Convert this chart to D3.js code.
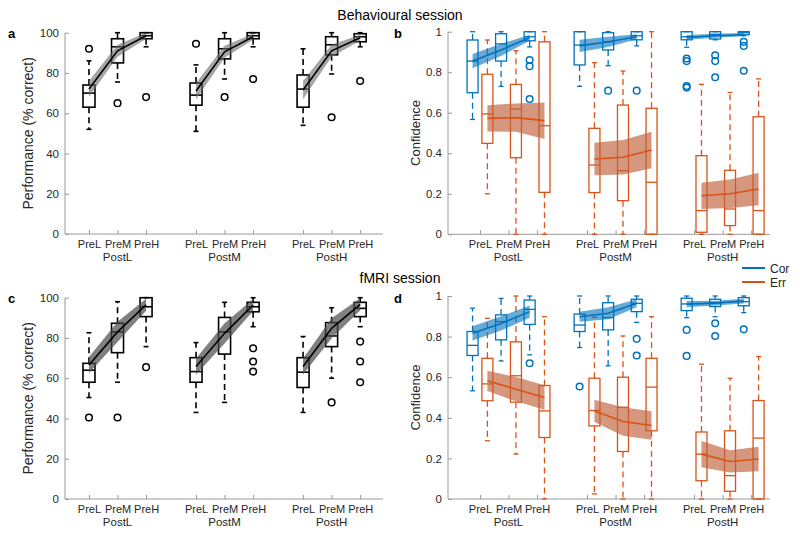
<!DOCTYPE html>
<html><head><meta charset="utf-8">
<script src="https://cdn.jsdelivr.net/npm/d3@7/dist/d3.min.js"></script>
<style>
body{margin:0;background:#fff;}
text{font-family:Arial,"Liberation Sans",Helvetica,sans-serif;}
</style>
</head><body>
<svg id="chart" width="800" height="534"></svg>
<script>
// ---------- data ----------
const groups = ["PostL", "PostM", "PostH"];
const conds = ["PreL", "PreM", "PreH"];
const positions = [1, 2, 3, 4.75, 5.75, 6.75, 8.5, 9.5, 10.5];
const perfTicks = [0, 20, 40, 60, 80, 100];
const confTicks = [0, 0.2, 0.4, 0.6, 0.8, 1];

// box stats: [lowerCap, q1, median, q3, upperCap]
const behavPerfBoxes = [
  [52, 63, 70, 74, 86], [75.5, 85, 93, 97, 100], [93, 97, 98.5, 100, 100],
  [51, 64, 69, 75, 84], [77, 87, 92, 97, 100], [93, 97, 98.5, 100, 100],
  [54, 63, 72, 79, 92], [79.5, 89, 94, 98, 100], [93, 95.5, 98, 99.5, 100]
];
const behavPerfOutliers = [[92], [65], [68], [94.5], [68], [77], [], [58], [76]];
const behavPerfMean = [72, 91, 98.5, 71, 90.5, 98, 71.5, 91, 97.5];
const behavPerfBand = [4, 3, 1.5, 4, 3, 1.5, 4.5, 3, 1.5];

const fmriPerfBoxes = [
  [50.4, 58, 64, 67.4, 82.6], [58, 72.7, 83, 87.3, 98], [75.7, 90.6, 95.5, 100, 100],
  [43, 58, 63.3, 70.2, 77.7], [48, 72, 83, 90.2, 97.7], [85.6, 93, 95.5, 97.7, 100],
  [43, 55.4, 63, 70.2, 80.7], [60, 75.7, 81, 87.6, 95], [85.6, 90.6, 94.7, 97.7, 100]
];
const fmriPerfOutliers = [[40.5], [40.5], [65.5], [], [], [74.9, 68.3, 63.3], [], [48], [78.2, 68.3, 58]];
const fmriPerfMean = [66.6, 83, 96.5, 65.8, 82.3, 96.4, 65.8, 84.8, 96.7];
const fmriPerfBand = [4, 5, 3, 4, 5, 3, 4, 5, 3];

const behavCorBoxes = [
  [0.567, 0.699, 0.855, 0.959, 1.0], [0.73, 0.855, 0.94, 0.99, 1.0], [0.925, 0.955, 0.975, 1.0, 1.0],
  [0.73, 0.836, 0.934, 1.0, 1.0], [0.832, 0.91, 0.95, 0.995, 1.0], [0.93, 0.96, 0.98, 1.0, 1.0],
  [0.923, 0.96, 0.975, 1.0, 1.0], [0.96, 0.964, 0.987, 1.0, 1.0], [0.98, 0.985, 0.995, 1.0, 1.0]
];
const behavCorOutliers = [[], [], [0.86, 0.83, 0.668], [], [0.709], [0.709],
  [0.868, 0.855, 0.732, 0.724], [0.884, 0.855, 0.775], [0.95, 0.93, 0.807]];
const behavCorMean = [0.855, 0.91, 0.97, 0.93, 0.95, 0.975, 0.972, 0.98, 0.985];
const behavCorBand = [0.035, 0.03, 0.015, 0.03, 0.025, 0.012, 0.012, 0.01, 0.008];

const behavErrBoxes = [
  [0.2, 0.449, 0.594, 0.79, 0.959], [0, 0.378, 0.618, 0.74, 0.906], [0, 0.207, 0.536, 0.95, 1.0],
  [0, 0.206, 0.342, 0.523, 0.847], [0, 0.166, 0.314, 0.638, 0.806], [0, 0.0, 0.257, 0.622, 1.0],
  [0, 0.01, 0.117, 0.388, 0.74], [0, 0.043, 0.125, 0.316, 0.70], [0, 0.0, 0.117, 0.58, 0.767]
];
const behavErrOutliers = [[], [], [], [], [], [], [], [], []];
const behavErrMean = [0.572, 0.576, 0.561, 0.372, 0.38, 0.416, 0.19, 0.20, 0.224];
const behavErrBand = [0.065, 0.07, 0.09, 0.08, 0.085, 0.09, 0.065, 0.07, 0.08];

const fmriCorBoxes = [
  [0.533, 0.707, 0.757, 0.825, 0.94], [0.68, 0.784, 0.874, 0.907, 0.988], [0.71, 0.86, 0.934, 0.98, 1.0],
  [0.746, 0.825, 0.857, 0.911, 1.0], [0.656, 0.833, 0.893, 0.967, 1.0], [0.87, 0.923, 0.964, 0.984, 1.0],
  [0.893, 0.928, 0.961, 0.989, 1.0], [0.898, 0.948, 0.967, 0.984, 1.0], [0.918, 0.952, 0.972, 0.992, 1.0]
];
const fmriCorOutliers = [[], [], [0.669], [0.554], [], [0.789, 0.707], [0.833, 0.705], [0.866, 0.803], [0.836]];
const fmriCorMean = [0.816, 0.865, 0.923, 0.898, 0.915, 0.964, 0.96, 0.965, 0.975];
const fmriCorBand = [0.035, 0.035, 0.03, 0.025, 0.03, 0.02, 0.015, 0.012, 0.012];

const fmriErrBoxes = [
  [0.287, 0.484, 0.567, 0.693, 0.89], [0.221, 0.477, 0.607, 0.774, 1.0], [0, 0.303, 0.434, 0.559, 0.898],
  [0.025, 0.36, 0.436, 0.595, 0.895], [0, 0.234, 0.452, 0.6, 0.803], [0, 0.336, 0.551, 0.693, 0.898],
  [0, 0.09, 0.221, 0.33, 0.664], [0, 0.038, 0.115, 0.336, 0.595], [0, 0, 0.3, 0.485, 0.702]
];
const fmriErrOutliers = [[], [], [], [], [], [], [], [], []];
const fmriErrMean = [0.582, 0.541, 0.5, 0.434, 0.382, 0.362, 0.221, 0.185, 0.197];
const fmriErrBand = [0.05, 0.06, 0.06, 0.055, 0.07, 0.07, 0.065, 0.055, 0.06];

const legendLabels = ["Cor", "Err"];
const sessionTitles = ["Behavioural session", "fMRI session"];
const panelLetters = ["a", "b", "c", "d"];

// ---------- drawing ----------
const BLUE = "#0072BD", ORANGE = "#D95319";
const svg = d3.select("#chart");
const AXIS_COL = "#9a9a9a", TEXT_COL = "#262626";

function drawPanel(cfg) {
  const g = svg.append("g");
  const x = d3.scaleLinear().domain(cfg.xDomain).range([cfg.left, cfg.right]);
  const y = d3.scaleLinear().domain(cfg.yDomain).range([cfg.bottom, cfg.top]);

  const ya = g.append("g").attr("transform", `translate(${cfg.left},0)`)
    .call(d3.axisLeft(y).tickValues(cfg.yTicks).tickSize(-4).tickSizeOuter(0).tickPadding(6)
      .tickFormat(d => d3.format("~g")(d)));
  const xa = g.append("g").attr("transform", `translate(0,${cfg.bottom})`)
    .call(d3.axisBottom(x).tickValues(positions).tickSize(-4).tickSizeOuter(0).tickPadding(6)
      .tickFormat((d, i) => conds[i % 3]));
  [ya, xa].forEach(a => {
    a.select(".domain").attr("stroke", AXIS_COL);
    a.selectAll(".tick line").attr("stroke", AXIS_COL);
    a.selectAll("text").attr("fill", TEXT_COL).style("font-size", "11.5px");
  });
  xa.selectAll("text").style("font-size", "11px");
  xa.select(".domain").attr("d", `M${cfg.left},0H${cfg.right}`);
  ya.select(".domain").attr("d", `M0,${cfg.bottom}V${cfg.top}`);

  groups.forEach((gn, k) => {
    g.append("text").attr("x", x(positions[3 * k + 1])).attr("y", cfg.bottom + 27)
      .attr("text-anchor", "middle").attr("fill", TEXT_COL).style("font-size", "11.5px").text(gn);
  });

  g.append("text")
    .attr("transform", `translate(${cfg.ylabX},${(cfg.top + cfg.bottom) / 2}) rotate(-90)`)
    .attr("text-anchor", "middle").attr("fill", TEXT_COL)
    .style("font-size", cfg.ylabSize).text(cfg.ylabel);

  cfg.series.forEach(s => {
    const bg = g.append("g");
    s.boxes.forEach((b, i) => {
      const cx = x(positions[i] + s.offset);
      const [lo, q1, md, q3, hi] = b;
      const line = (x1, y1, x2, y2, dash) => bg.append("line")
        .attr("x1", x1).attr("y1", y1).attr("x2", x2).attr("y2", y2)
        .attr("stroke", s.color).attr("stroke-width", s.sw)
        .attr("stroke-dasharray", dash ? "6,4" : null);
      if (hi > q3) line(cx, y(q3), cx, y(hi), true);
      if (lo < q1) line(cx, y(q1), cx, y(lo), true);
      line(cx - cfg.capW / 2, y(hi), cx + cfg.capW / 2, y(hi));
      line(cx - cfg.capW / 2, y(lo), cx + cfg.capW / 2, y(lo));
      bg.append("rect").attr("x", cx - cfg.boxW / 2).attr("y", y(q3))
        .attr("width", cfg.boxW).attr("height", Math.max(0.5, y(q1) - y(q3)))
        .attr("fill", "none").attr("stroke", s.color).attr("stroke-width", s.sw);
      line(cx - cfg.boxW / 2, y(md), cx + cfg.boxW / 2, y(md));
      s.outliers[i].forEach(o => {
        bg.append("circle").attr("cx", cx).attr("cy", y(o)).attr("r", 3.3)
          .attr("fill", "none").attr("stroke", s.color).attr("stroke-width", 1.5);
      });
    });
  });

  cfg.series.forEach(s => {
    groups.forEach((gn, k) => {
      const idx = [3 * k, 3 * k + 1, 3 * k + 2];
      const area = d3.area()
        .x(i => x(positions[i] + s.offset))
        .y0(i => y(s.mean[i] - s.band[i]))
        .y1(i => y(s.mean[i] + s.band[i]));
      g.append("path").attr("d", area(idx))
        .attr("fill", s.bandColor).attr("fill-opacity", s.bandOpacity).attr("stroke", "none");
      const ln = d3.line().x(i => x(positions[i] + s.offset)).y(i => y(s.mean[i]));
      g.append("path").attr("d", ln(idx)).attr("fill", "none")
        .attr("stroke", s.color).attr("stroke-width", 1.6);
    });
  });
}

const perfCommon = {
  left: 65, right: 383, xDomain: [0.16, 11.3], yDomain: [0, 100], yTicks: perfTicks,
  boxW: 12, capW: 5, ylabX: 33, ylabSize: "14px", ylabel: "Performance (% correct)"
};
const confCommon = {
  left: 448, right: 770, xDomain: [-0.12, 11.16], yDomain: [0, 1], yTicks: confTicks,
  boxW: 11, capW: 5, ylabX: 420, ylabSize: "13px", ylabel: "Confidence"
};
const off = 0.26;

drawPanel(Object.assign({}, perfCommon, {
  top: 32.7, bottom: 234,
  series: [{ boxes: behavPerfBoxes, outliers: behavPerfOutliers, mean: behavPerfMean, band: behavPerfBand,
    offset: 0, color: "#000", sw: 1.6, bandColor: "#6a6a6a", bandOpacity: 0.6 }]
}));
drawPanel(Object.assign({}, perfCommon, {
  top: 297.7, bottom: 499,
  series: [{ boxes: fmriPerfBoxes, outliers: fmriPerfOutliers, mean: fmriPerfMean, band: fmriPerfBand,
    offset: 0, color: "#000", sw: 1.6, bandColor: "#4a4a4a", bandOpacity: 0.7 }]
}));
drawPanel(Object.assign({}, confCommon, {
  top: 31.7, bottom: 234.3,
  series: [
    { boxes: behavCorBoxes, outliers: behavCorOutliers, mean: behavCorMean, band: behavCorBand,
      offset: -off, color: BLUE, sw: 1.3, bandColor: BLUE, bandOpacity: 0.6 },
    { boxes: behavErrBoxes, outliers: behavErrOutliers, mean: behavErrMean, band: behavErrBand,
      offset: off, color: ORANGE, sw: 1.3, bandColor: "#c0603a", bandOpacity: 0.65 }
  ]
}));
drawPanel(Object.assign({}, confCommon, {
  top: 296, bottom: 499,
  series: [
    { boxes: fmriCorBoxes, outliers: fmriCorOutliers, mean: fmriCorMean, band: fmriCorBand,
      offset: -off, color: BLUE, sw: 1.3, bandColor: BLUE, bandOpacity: 0.6 },
    { boxes: fmriErrBoxes, outliers: fmriErrOutliers, mean: fmriErrMean, band: fmriErrBand,
      offset: off, color: ORANGE, sw: 1.3, bandColor: "#c0603a", bandOpacity: 0.65 }
  ]
}));

[[sessionTitles[0], 20], [sessionTitles[1], 283]].forEach(([t, yy]) => {
  svg.append("text").attr("x", 400).attr("y", yy).attr("text-anchor", "middle")
    .attr("fill", "#000").style("font-size", "14px").text(t);
});
[[panelLetters[0], 8, 38], [panelLetters[1], 394, 38], [panelLetters[2], 8, 303], [panelLetters[3], 394, 303]]
  .forEach(([t, xx, yy]) => {
    svg.append("text").attr("x", xx).attr("y", yy).attr("fill", "#000")
      .style("font-size", "13px").style("font-weight", "bold").text(t);
  });
[[legendLabels[0], BLUE, 268], [legendLabels[1], ORANGE, 282]].forEach(([t, c, yy]) => {
  svg.append("line").attr("x1", 742).attr("x2", 765).attr("y1", yy).attr("y2", yy)
    .attr("stroke", c).attr("stroke-width", 2);
  svg.append("text").attr("x", 770).attr("y", yy + 4.5).attr("fill", TEXT_COL)
    .style("font-size", "12px").text(t);
});
</script>
</body></html>
